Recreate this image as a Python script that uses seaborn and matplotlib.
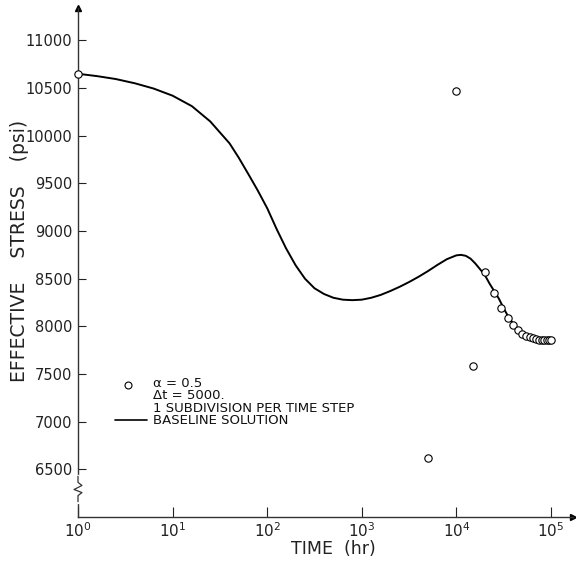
import numpy as np
import pandas as pd
import matplotlib
matplotlib.use("Agg")
import matplotlib.pyplot as plt
import seaborn as sns

# Baseline solution
base_time = [1, 1.6, 2.5, 4.0, 6.3, 10, 16, 25, 40, 50, 63, 79, 100, 126, 158, 200,
             251, 316, 398, 501, 631, 794, 1000, 1259, 1585, 1995, 2512, 3162, 3981,
             5012, 6310, 7943, 10000, 11220, 12590, 14130, 15850, 17780, 19950, 22390,
             25120, 28180, 31620, 35480, 39810, 44670, 50120, 56230, 63100, 70790,
             79430, 100000]
base_stress = [10650, 10625, 10595, 10550, 10495, 10420, 10310, 10150, 9920, 9770,
               9600, 9430, 9240, 9020, 8820, 8640, 8500, 8400, 8340, 8300, 8280, 8275,
               8280, 8300, 8330, 8370, 8415, 8465, 8520, 8580, 8645, 8705, 8745, 8750,
               8740, 8710, 8660, 8600, 8540, 8450, 8370, 8290, 8190, 8100, 8030, 7975,
               7935, 7905, 7885, 7872, 7865, 7862]

# Computed points (alpha = 0.5, dt = 5000)
pt_time = [1, 5000, 10000, 15000, 20000, 25000, 30000, 35000, 40000, 45000, 50000,
           55000, 60000, 65000, 70000, 75000, 80000, 85000, 90000, 95000, 100000]
pt_stress = [10650, 6615, 10470, 7580, 8570, 8353, 8196, 8090, 8018, 7965, 7924,
             7900, 7885, 7875, 7868, 7862, 7860, 7858, 7858, 7860, 7862]

y_ticks = [6500, 7000, 7500, 8000, 8500, 9000, 9500, 10000, 10500, 11000]
x_ticks = [1, 10, 100, 1000, 10000, 100000]
x_ticklabels = [r"$10^{0}$", r"$10^{1}$", r"$10^{2}$", r"$10^{3}$", r"$10^{4}$", r"$10^{5}$"]

legend_lines = ["α = 0.5", "Δt = 5000.", "1 SUBDIVISION PER TIME STEP", "BASELINE SOLUTION"]

sns.set_theme(style="ticks")
plt.rcParams['font.family'] = ['DejaVu Sans']

fig = plt.figure(figsize=(5.76, 5.65), dpi=100)
ax = fig.add_axes([78/576, 1-517/565, 495/576, 509/565])

base = pd.DataFrame({"t": base_time, "s": base_stress})
pts = pd.DataFrame({"t": pt_time, "s": pt_stress})

sns.lineplot(data=base, x="t", y="s", ax=ax, color="black", lw=1.4, sort=True)
sns.scatterplot(data=pts, x="t", y="s", ax=ax, marker="o", s=28,
                facecolor="white", edgecolor="black", linewidth=0.8, zorder=3,
                clip_on=False)

ax.set_xscale("log")
ax.set_xlim(1, 10**5.233)
ax.set_ylim(6000, 11340)
ax.set_xticks(x_ticks)
ax.set_xticklabels(x_ticklabels)
ax.minorticks_off()
ax.set_yticks(y_ticks)
ax.set_yticklabels([str(v) for v in y_ticks])
ax.tick_params(axis="y", direction="in", length=6, width=0.8, pad=4, labelsize=10.5,
               colors="#222222")
ax.tick_params(axis="x", direction="in", length=7, width=0.8, pad=3, labelsize=11,
               colors="#222222")
for s in ["top", "right"]:
    ax.spines[s].set_visible(False)
for s in ["left", "bottom"]:
    ax.spines[s].set_color("#333333")
    ax.spines[s].set_linewidth(1.0)

ax.set_xlabel("TIME  (hr)", fontsize=12.5, color="#222222")
ax.xaxis.set_label_coords((333 - 78) / 495, -(549 - 517) / 509)
ax.xaxis.label.set_va("center")
ax.set_ylabel("EFFECTIVE    STRESS    (psi)", fontsize=13.5, color="#222222")
ax.yaxis.set_label_coords(-(78 - 20) / 495, (517 - 251) / 509)
ax.yaxis.label.set_va("center")

# axis arrows
ax.plot([0], [1], marker="^", color="black", markersize=4, transform=ax.transAxes, clip_on=False)
ax.plot([1], [0], marker=">", color="black", markersize=4, transform=ax.transAxes, clip_on=False)

# axis break symbol
zx = [0, 0, 0.008, -0.008, 0.008, 0, 0]
zy = [0.08, 0.068, 0.062, 0.054, 0.048, 0.042, 0.03]
ax.plot([0, 0], [0.03, 0.08], color="white", lw=2.5, transform=ax.transAxes, clip_on=False, zorder=4)
ax.plot(zx, zy, color="#333333", lw=0.9, transform=ax.transAxes, clip_on=False, zorder=5)

# legend
ax.plot([0.101], [0.259], marker="o", markersize=5, markerfacecolor="white",
        markeredgecolor="black", markeredgewidth=0.8, transform=ax.transAxes)
ax.plot([0.075, 0.139], [0.191, 0.191], color="black", lw=1.2, transform=ax.transAxes)
ax.text(0.152, 0.275, "\n".join(legend_lines), transform=ax.transAxes, va="top",
        ha="left", fontsize=9.5, linespacing=0.93, color="#111111")

fig.savefig("out.png", dpi=100)
